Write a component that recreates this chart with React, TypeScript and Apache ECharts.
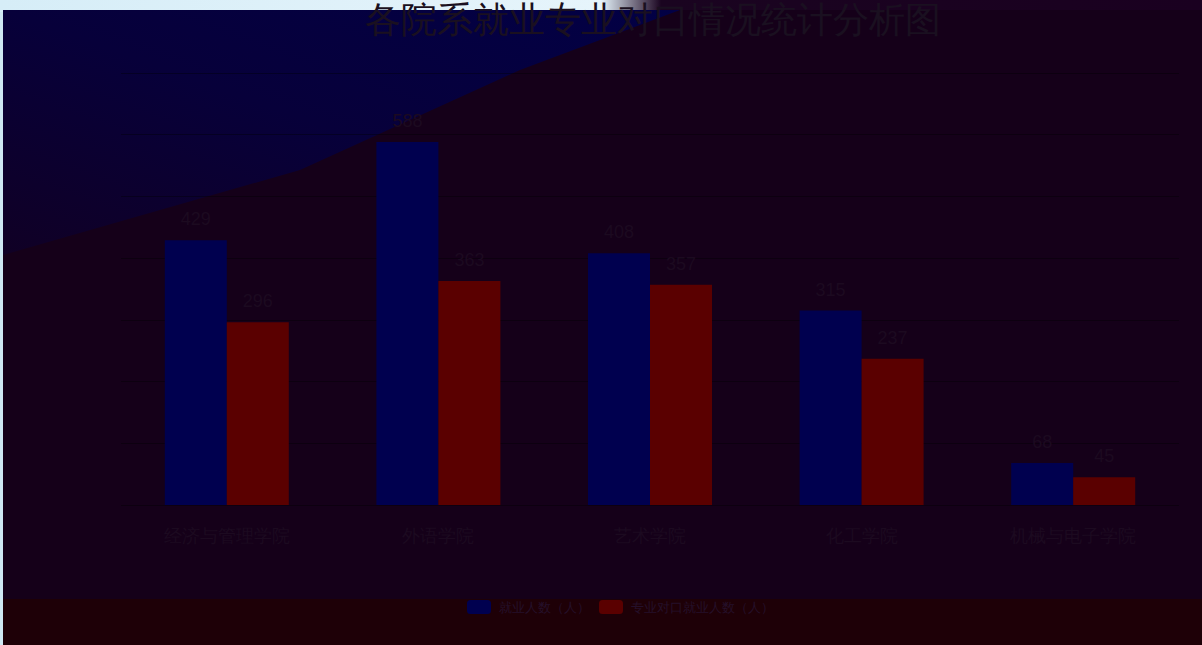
import React, { useEffect, useRef } from "react";
import * as echarts from "echarts";

const titleText = "各院系就业专业对口情况统计分析图";
const categories = ["经济与管理学院", "外语学院", "艺术学院", "化工学院", "机械与电子学院"];
const seriesNames = ["就业人数（人）", "专业对口就业人数（人）"];
const employed = [429, 588, 408, 315, 68];
const matched = [296, 363, 357, 237, 45];
const yMax = 700;
const yStep = 100;

export default function App() {
  const ref = useRef<HTMLDivElement>(null);
  useEffect(() => {
    document.body.style.margin = "0";
    const chart = echarts.init(ref.current!, null, { renderer: "svg" });
    chart.setOption({
      animation: false,
      backgroundColor: "#cfe8f3",
      graphic: [
        {
          type: "rect",
          z: -100,
          shape: { x: 0, y: 0, width: 1202, height: 12 },
          style: {
            fill: new echarts.graphic.LinearGradient(0, 0, 1, 0, [
              { offset: 0, color: "#d6edf7" },
              { offset: 0.5, color: "#e6f4fb" },
              { offset: 0.55, color: "#1a0420" },
              { offset: 1, color: "#1a0020" },
            ]),
          },
        },
        {
          type: "rect",
          z: -99,
          shape: { x: 3, y: 10, width: 1199, height: 635 },
          style: { fill: "#150019" },
        },
        {
          type: "polygon",
          z: -98,
          shape: { points: [[3, 10], [680, 10], [520, 70], [300, 170], [3, 255]] },
          style: {
            fill: new echarts.graphic.LinearGradient(1, 0, 0, 1, [
              { offset: 0, color: "#020045" },
              { offset: 0.5, color: "#07003a" },
              { offset: 1, color: "#100025" },
            ]),
          },
        },
        {
          type: "rect",
          z: -97,
          shape: { x: 3, y: 599, width: 1199, height: 46 },
          style: { fill: "#1e0007" },
        },
      ],
      title: {
        text: titleText,
        left: 360,
        top: -4,
        textStyle: { color: "#1a1020", fontSize: 36, fontWeight: "normal" },
      },
      legend: {
        data: seriesNames,
        top: 595,
        left: 462,
        itemWidth: 24,
        itemHeight: 14,
        itemGap: 9,
        textStyle: { color: "#25102a", fontSize: 13, padding: [0, 0, 0, 3] },
      },
      grid: { left: 121, right: 23, top: 73, bottom: 140 },
      xAxis: {
        type: "category",
        data: categories,
        axisLine: { show: false },
        axisTick: { show: false },
        axisLabel: { color: "#1c0a20", fontSize: 18, margin: 22 },
      },
      yAxis: {
        type: "value",
        min: 0,
        max: yMax,
        interval: yStep,
        axisLabel: { show: false },
        axisLine: { show: false },
        axisTick: { show: false },
        splitLine: { lineStyle: { color: "rgba(0,0,0,0.35)", width: 1 } },
      },
      series: [
        {
          name: seriesNames[0],
          type: "bar",
          data: employed,
          barWidth: 62,
          barGap: "0%",
          itemStyle: { color: "#00004f" },
          label: { show: true, position: "top", color: "#1c0a20", fontSize: 18, distance: 12 },
        },
        {
          name: seriesNames[1],
          type: "bar",
          data: matched,
          barWidth: 62,
          itemStyle: { color: "#5a0000" },
          label: { show: true, position: "top", color: "#1c0a20", fontSize: 18, distance: 12 },
        },
      ],
    });
    return () => chart.dispose();
  }, []);
  return <div ref={ref} style={{ width: 1202, height: 645 }} />;
}
